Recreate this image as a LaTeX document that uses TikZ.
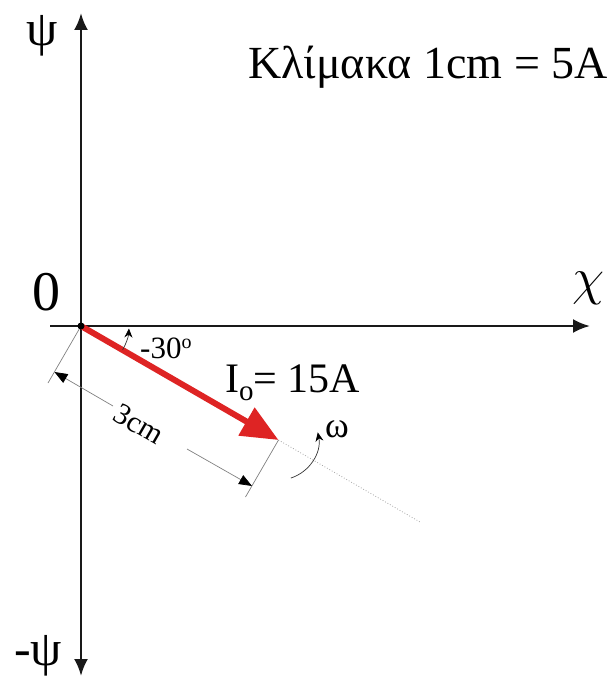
\documentclass[tikz,border=0pt]{standalone}
\usepackage{fontspec}
\setmainfont{Liberation Serif}
\usetikzlibrary{arrows.meta,calc}
\begin{document}
\begin{tikzpicture}[x=1pt,y=-1pt,
  axis/.style={line width=2.6pt, draw=black!90},
  vec/.style={line width=6pt, draw={rgb,255:red,222;green,36;blue,36}, -{Triangle[length=37pt,width=31pt]}},
  dimline/.style={line width=0.7pt, draw=gray},
  dimtip/.style={-{Triangle[length=13pt,width=10pt,color=black]}},
  arcline/.style={line width=0.7pt, draw=black!80, -{Stealth[length=9pt,width=8pt,color=black]}},
  lbl/.style={inner sep=0pt}]
\useasboundingbox (0,0) rectangle (613,677);
% key points
\coordinate (O) at (81,326);
\coordinate (T) at (278.5,440);
\coordinate (Ytop) at (81,13);
\coordinate (Ybot) at (81,676);
\coordinate (Xl) at (50,326);
\coordinate (Xr) at (590,326);
\coordinate (Oe) at (48,383);
\coordinate (Te) at (245.5,497);
\coordinate (A) at (54.5,372);
\coordinate (B) at (252,486);
\coordinate (Ag) at (113,406);
\coordinate (Bg) at (187,449);
\coordinate (D) at (420,522);
% axes
\draw[axis, {Latex[length=17pt,width=14pt]}-{Latex[length=17pt,width=14pt]}] (Ybot) -- (Ytop);
\draw[axis, -{Latex[length=17pt,width=14pt]}] (Xl) -- (Xr);
% dotted continuation
\draw[line width=0.8pt, gray!70, dotted] (T) -- (D);
% extension lines
\draw[dimline] (O) -- (Oe);
\draw[dimline] (T) -- (Te);
% dimension line
\draw[dimline, dimtip] (Ag) -- (A);
\draw[dimline, dimtip] (Bg) -- (B);
% vector
\draw[vec] (O) -- (T);
\fill[black] (O) circle (3.5);
% angle arc
\draw[arcline] ($(O)+(30:48)$) arc[start angle=30, end angle=3, radius=48];
% omega arc
\draw[arcline] ($(T)+(72:40)$) arc[start angle=72, end angle=-11, radius=40];
% labels
\node[lbl, font=\fontsize{50}{50}\selectfont] (psi) at (42,36) {ψ};
\node[lbl, font=\fontsize{50}{50}\selectfont] (mpsi) at (38,656) {-ψ};
\node[lbl, font=\fontsize{56}{56}\selectfont] (zero) at (46,292) {0};
\node[lbl] (chi) at (589,288) {\scalebox{2.1}{\Huge$\chi$}};
\node[lbl, anchor=base east, font=\fontsize{46}{46}\selectfont] (title) at (608,78) {Κλίμακα 1cm = 5A};
\node[lbl, anchor=base west, font=\fontsize{42}{42}\selectfont] (io) at (225,392) {I\raisebox{-8pt}{\fontsize{29}{29}\selectfont o}= 15A};
\node[lbl, anchor=base west, font=\fontsize{31}{31}\selectfont] (ang) at (140,358) {-30\raisebox{10pt}{\fontsize{20}{20}\selectfont o}};
\node[lbl, rotate=-30, font=\fontsize{30}{30}\selectfont] (dim) at (139,424) {3cm};
\node[lbl, font=\fontsize{36}{36}\selectfont] (om) at (337,429) {ω};
\end{tikzpicture}
\end{document}
